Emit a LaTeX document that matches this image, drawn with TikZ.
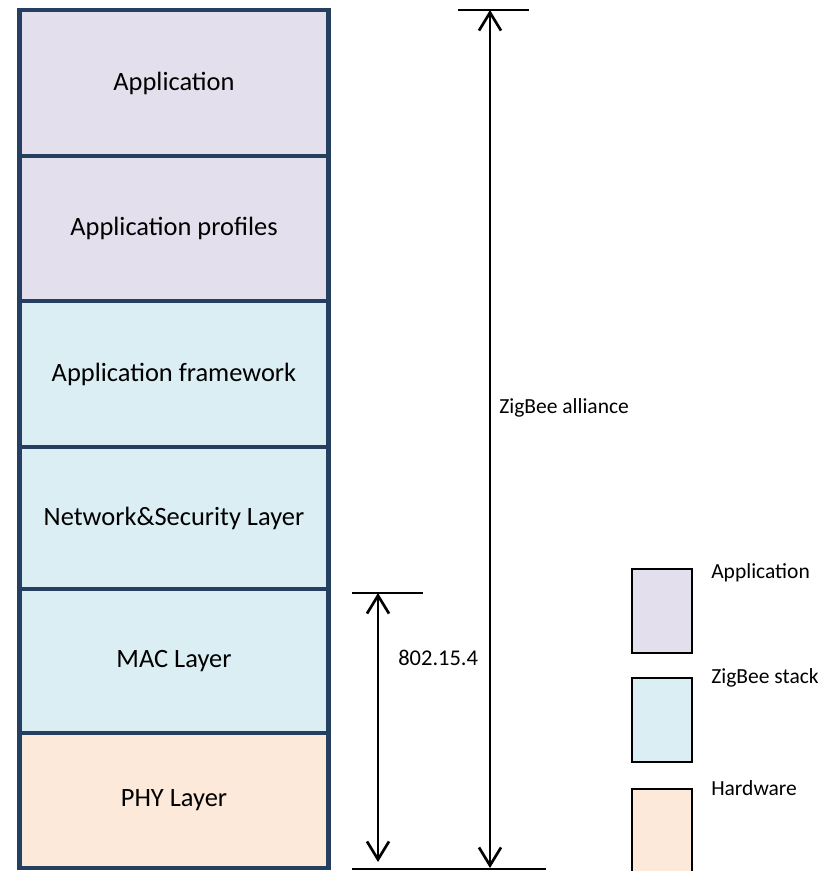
\documentclass[tikz,border=0pt]{standalone}
\usepackage{fontspec}
\setmainfont{Carlito}
\usetikzlibrary{arrows.meta}

\definecolor{appfill}{HTML}{E4DFEC}
\definecolor{stackfill}{HTML}{DBEEF3}
\definecolor{hwfill}{HTML}{FDE9D9}
\definecolor{layerline}{HTML}{243F60}

\tikzset{
  layer/.style={rectangle, draw=layerline, line width=3.5pt, minimum width=7.7cm, text centered, font=\fontsize{18.8}{22}\selectfont},
  legendbox/.style={rectangle, draw=black, line width=1.8pt, minimum width=1.5cm, minimum height=2.1cm},
  span/.style={line width=1.9pt, {Straight Barb[length=4.5mm,width=5.5mm]}-{Straight Barb[length=4.5mm,width=5.5mm]}},
  bar/.style={line width=1.5pt},
  note/.style={anchor=west, inner sep=0pt, font=\fontsize{15.3}{18}\selectfont}
}

\begin{document}
\begin{tikzpicture}[x=0.025cm, y=-0.025cm]
\useasboundingbox (0,0) rectangle (830,871);

% protocol stack
\node [layer, fill=appfill, minimum height=3.65cm] (application) at (174,83) {Application};
\node [layer, fill=appfill, minimum height=3.625cm] (profiles) at (174,228.5) {Application profiles};
\node [layer, fill=stackfill, minimum height=3.65cm] (framework) at (174,374) {Application framework};
\node [layer, fill=stackfill, minimum height=3.55cm] (network) at (174,518) {Network\&Security Layer};
\node [layer, fill=stackfill, minimum height=3.6cm] (mac) at (174,661) {MAC Layer};
\node [layer, fill=hwfill, minimum height=3.375cm] (phy) at (174,800.5) {PHY Layer};

% spans
\coordinate (allianceL) at (458,10);
\coordinate (allianceR) at (529,10);
\coordinate (allianceTop) at (490,10);
\coordinate (allianceBot) at (490,868);
\coordinate (ieeeL) at (352,593);
\coordinate (ieeeR) at (423,593);
\coordinate (ieeeTop) at (378,593);
\coordinate (ieeeBot) at (378,862);
\coordinate (baseL) at (352,869);
\coordinate (baseR) at (546,869);

\draw [bar] (allianceL) -- (allianceR);
\draw [bar] (ieeeL) -- (ieeeR);
\draw [bar] (baseL) -- (baseR);
\draw [span] (allianceTop) -- (allianceBot);
\draw [span] (ieeeTop) -- (ieeeBot);
\node [note] (allianceText) at (499,408) {ZigBee alliance};
\node [note, font=\fontsize{16}{19}\selectfont] (ieeeText) at (398,658) {802.15.4};

% legend
\node [legendbox, fill=appfill] (keyApp) at (662,611) {};
\node [legendbox, fill=stackfill] (keyStack) at (662,720) {};
\node [legendbox, fill=hwfill] (keyHw) at (662,831) {};
\node [note] (keyAppText) at (711,573) {Application};
\node [note] (keyStackText) at (711,678) {ZigBee stack};
\node [note] (keyHwText) at (711,788) {Hardware};

\end{tikzpicture}
\end{document}
